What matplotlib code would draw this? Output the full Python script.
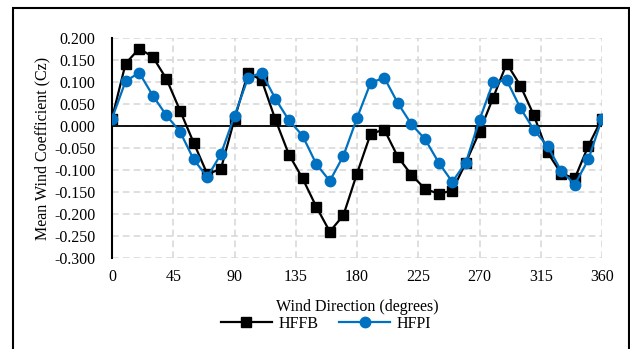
import matplotlib
matplotlib.use("Agg")
import matplotlib.pyplot as plt
from matplotlib.patches import Rectangle

directions = list(range(0, 361, 10))
hffb = [0.017, 0.142, 0.176, 0.157, 0.107, 0.035, -0.038, -0.109, -0.098, 0.016,
        0.121, 0.104, 0.015, -0.065, -0.119, -0.183, -0.240, -0.203, -0.108, -0.018,
        -0.008, -0.070, -0.111, -0.143, -0.154, -0.147, -0.083, -0.013, 0.064, 0.142,
        0.092, 0.024, -0.060, -0.108, -0.119, -0.045, 0.017]
hfpi = [0.017, 0.102, 0.121, 0.069, 0.024, -0.013, -0.076, -0.116, -0.064, 0.023,
        0.110, 0.121, 0.062, 0.013, -0.022, -0.086, -0.125, -0.068, 0.018, 0.098,
        0.110, 0.052, 0.004, -0.030, -0.083, -0.127, -0.083, 0.014, 0.099, 0.104,
        0.041, -0.009, -0.046, -0.102, -0.133, -0.076, 0.017]
xticks = [0, 45, 90, 135, 180, 225, 270, 315, 360]
yticks = [0.2, 0.15, 0.1, 0.05, 0.0, -0.05, -0.1, -0.15, -0.2, -0.25, -0.3]

plt.rcParams['font.family'] = ['Liberation Serif', 'DejaVu Serif']
FS = 11.5

W, H = 630, 349
fig = plt.figure(figsize=(W/100, H/100), dpi=100)
ax = fig.add_axes([112/W, 1-258/H, (602-112)/W, (258-38)/H])

ax.plot(directions, hffb, color='black', lw=1.6, marker='s', ms=7.5, label='HFFB', zorder=4)
ax.plot(directions, hfpi, color='#0070C0', lw=1.6, marker='o', ms=7.5, label='HFPI', zorder=5)
ax.axhline(0, color='black', lw=1.3, zorder=3)

ax.set_xlim(0, 360)
ax.set_ylim(-0.3, 0.2)
ax.set_xticks(xticks)
ax.set_yticks(yticks)
ax.set_yticklabels([f"{v:.3f}" for v in yticks])
ax.tick_params(axis='x', length=0, labelsize=FS, pad=8)
ax.tick_params(axis='y', length=0, labelsize=FS, pad=12)
ax.grid(True, color='#d9d9d9', ls=(0, (4, 2.5)), lw=1.2)
ax.set_axisbelow(True)
for s in ['top', 'right', 'bottom']:
    ax.spines[s].set_visible(False)
ax.spines['left'].set_linewidth(1.5)
ax.spines['left'].set_color('black')

ax.set_xlabel('Wind Direction (degrees)', fontsize=FS, labelpad=10)
ax.set_ylabel('Mean Wind Coefficient (Cz)', fontsize=FS, labelpad=3)

fig.legend(*ax.get_legend_handles_labels(), loc='center', bbox_to_anchor=(326/W, 1-324/H),
           ncol=2, frameon=False, fontsize=FS, handlelength=3.2, columnspacing=1.3,
           handletextpad=0.4, borderaxespad=0, borderpad=0)

fig.patches.append(Rectangle((13/W, -0.05), (629-13)/W, 1.05 - 8/H, transform=fig.transFigure,
                             fill=False, edgecolor='black', lw=1.5, clip_on=False))

fig.savefig('out.png', dpi=100)
